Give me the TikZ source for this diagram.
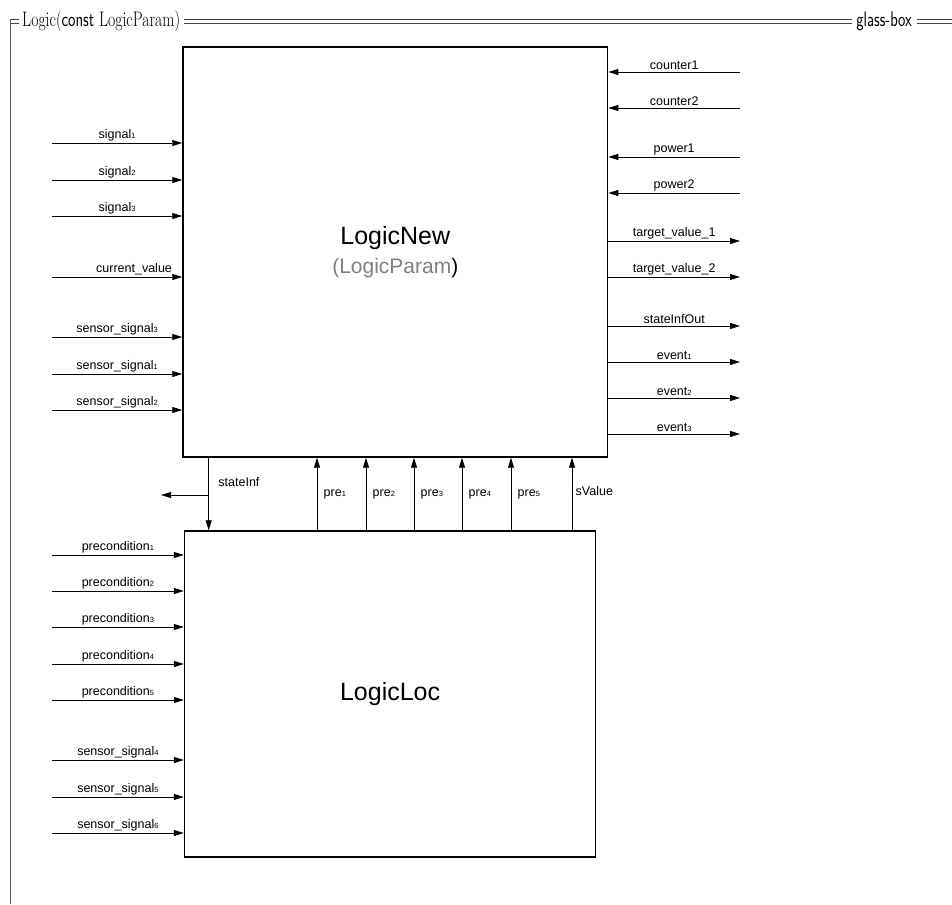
\documentclass[tikz,border=0pt]{standalone}
\usepackage{fontspec}
\newfontfamily\arialfont{Liberation Sans}
\usetikzlibrary{
    arrows.meta,
    positioning,
    calc
}
\newcommand{\idx}[1]{{\fontsize{7.5}{8}\selectfont #1}}

\begin{document}
\begin{tikzpicture}[
            x=1pt, y=-1pt,
            font=\arialfont\fontsize{12.5}{15}\selectfont,
            block/.style={draw, line width=1.4pt, inner sep=0pt, align=center},
            bigname/.style={font=\arialfont\fontsize{25}{30}\selectfont},
            sig/.style={-{Triangle[length=10pt,width=6pt]}, line width=0.8pt},
            lbl/.style={above, inner sep=1.5pt},
            frameline/.style={black!75, line width=0.9pt}
        ]
            \useasboundingbox (0,0) rectangle (952,904);

            % frame with title
            \node[anchor=base west, inner sep=0pt, font=\rmfamily\fontsize{21}{25}\selectfont] (title) at (22,27)
                {\scalebox{0.75}[1]{Logic(\textsf{const} LogicParam)}};
            \node[anchor=base east, inner sep=0pt, font=\sffamily\fontsize{21}{25}\selectfont] (glass) at (912,27)
                {\scalebox{0.74}[1]{glass-box}};
            \coordinate (corner) at (10,19.5);
            \coordinate (edge) at (952,19.5);
            \foreach \d in {0,4} {
                \draw[frameline] ([yshift=-\d pt]corner) -- ($(title.west |- corner)+(-3,\d)$);
                \draw[frameline] ($(title.east |- corner)+(4,\d)$) -- ($(glass.west |- corner)+(-4,\d)$);
                \draw[frameline] ($(glass.east |- corner)+(5,\d)$) -- ([yshift=-\d pt]edge);
            }
            \draw[frameline, black!65] (10,19) -- (10,904);

            % blocks
            \node[block, minimum width=424.7pt, minimum height=410pt] (new) at (395.3,252)
                {{\fontsize{25}{30}\selectfont LogicNew}\\[7pt]
                 {\fontsize{21}{26}\selectfont\color{gray}(LogicParam\color{black})}};
            \node[block, bigname, minimum width=411.2pt, minimum height=326pt] (loc) at (390.1,694)
                {LogicLoc};

            % inputs of LogicNew
            \foreach \y/\txt in {143/{signal\idx{1}}, 180/{signal\idx{2}}, 216/{signal\idx{3}},
                                 337/{sensor\_signal\idx{3}}, 374/{sensor\_signal\idx{1}}, 410/{sensor\_signal\idx{2}}} {
                \coordinate (in) at (52,\y);
                \draw[sig] (in) -- node[lbl]{\txt} (in -| new.west);
            }
            \coordinate (cur) at (52,277);
            \draw[sig] (cur) -- node[lbl, pos=0.63]{current\_value} (cur -| new.west);

            \foreach \y/\txt in {72/counter1, 108/counter2, 157/power1, 193/power2} {
                \coordinate (rin) at (740,\y);
                \draw[sig] (rin) -- node[lbl]{\txt} (rin -| new.east);
            }

            % outputs of LogicNew
            \foreach \y/\txt in {241/{target\_value\_1}, 277/{target\_value\_2}, 326/stateInfOut,
                                 362/{event\idx{1}}, 398/{event\idx{2}}, 434/{event\idx{3}}} {
                \coordinate (rout) at (740,\y);
                \draw[sig] (rout -| new.east) -- node[lbl]{\txt} (rout);
            }

            % inputs of LogicLoc
            \foreach \y/\txt in {555/{precondition\idx{1}}, 591/{precondition\idx{2}}, 627/{precondition\idx{3}},
                                 664/{precondition\idx{4}}, 700/{precondition\idx{5}},
                                 760/{sensor\_signal\idx{4}}, 797/{sensor\_signal\idx{5}}, 833/{sensor\_signal\idx{6}}} {
                \coordinate (lin) at (52,\y);
                \draw[sig] (lin) -- node[lbl]{\txt} (lin -| loc.west);
            }

            % between the blocks
            \coordinate (st) at (208.7,495);
            \coordinate (stout) at (161,495);
            \draw[sig] (st |- new.south) -- node[pos=0.34, right, xshift=6pt]{stateInf} (st |- loc.north);
            \draw[sig] (st) -- (stout);

            \foreach \x/\i in {317/1, 366/2, 414/3, 462/4, 511/5} {
                \coordinate (pr) at (\x,495);
                \draw[sig] (pr |- loc.north) -- node[pos=0.5, right, xshift=3pt]{pre\idx{\i}} (pr |- new.south);
            }
            \coordinate (sv) at (572,495);
            \draw[sig] (sv |- loc.north) -- node[pos=0.54, right]{sValue} (sv |- new.south);
        \end{tikzpicture}
\end{document}
